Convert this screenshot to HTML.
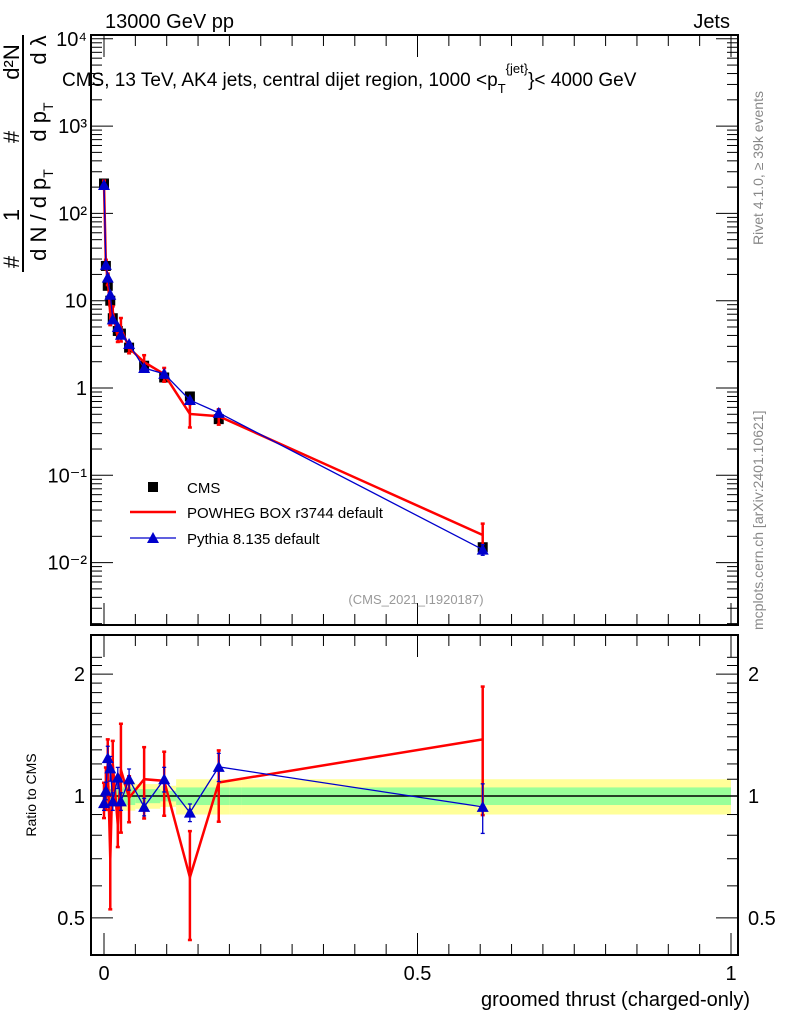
<!DOCTYPE html>
<html><head><meta charset="utf-8"><style>
body{margin:0;background:#fff}
svg{font-family:"Liberation Sans",sans-serif}
</style></head><body>
<svg id="c" width="786" height="1024" viewBox="0 0 786 1024" xmlns="http://www.w3.org/2000/svg">
<g id="g"></g>
<text x="105" y="28" font-size="20">13000 GeV pp</text>
<text x="730" y="28" font-size="20" text-anchor="end">Jets</text>
<text x="62" y="86" font-size="19">CMS, 13 TeV, AK4 jets, central dijet region, 1000 &lt;p<tspan dy="7" font-size="13">T</tspan><tspan dy="-20" font-size="13">{jet}</tspan><tspan dy="13">}&lt; 4000 GeV</tspan></text>
<text x="416" y="604" font-size="13" fill="#999" text-anchor="middle">(CMS_2021_I1920187)</text>
<text transform="translate(763,245) rotate(-90)" font-size="14" fill="#888">Rivet 4.1.0, ≥ 39k events</text>
<text transform="translate(763,630) rotate(-90)" font-size="14" fill="#888">mcplots.cern.ch [arXiv:2401.10621]</text>
<g font-size="22">
<line x1="23" y1="35" x2="23" y2="272" stroke="#000" stroke-width="2"/>
<text transform="translate(19,262) rotate(-90)" text-anchor="middle">#</text>
<text transform="translate(19,215) rotate(-90)" text-anchor="middle">1</text>
<text transform="translate(19,137) rotate(-90)" text-anchor="middle">#</text>
<text transform="translate(19,62) rotate(-90)" text-anchor="middle">d²N</text>
<text transform="translate(46,215) rotate(-90)" text-anchor="middle">d N / d p<tspan font-size="14" dy="7">T</tspan></text>
<text transform="translate(46,122) rotate(-90)" text-anchor="middle">d p<tspan font-size="14" dy="7">T</tspan></text>
<text transform="translate(46,50) rotate(-90)" text-anchor="middle">d λ</text>
</g>
<text transform="translate(36,795) rotate(-90)" font-size="14" text-anchor="middle">Ratio to CMS</text>
<text x="750" y="1006" font-size="20" text-anchor="end">groomed thrust (charged-only)</text>
<g font-size="15">
<rect x="148" y="482" width="10" height="10" fill="#000"/>
<text x="187" y="493">CMS</text>
<line x1="130" y1="512" x2="176" y2="512" stroke="red" stroke-width="2.5"/>
<text x="187" y="518">POWHEG BOX r3744 default</text>
<line x1="130" y1="538" x2="176" y2="538" stroke="#00c" stroke-width="1.3"/>
<polygon points="153,532 147,543 159,543" fill="#00c"/>
<text x="187" y="544">Pythia 8.135 default</text>
</g>
</svg>
<script>
const xs=[0.0,0.003,0.006,0.01,0.014,0.022,0.027,0.04,0.064,0.096,0.137,0.183,0.604];
const cms=[220,25,14.8,10,6.3,4.5,4.2,2.9,1.8,1.32,0.8,0.44,0.015];
const powRatio=[0.98,1.05,1.2,0.7,1.2,0.85,1.16,0.99,1.1,1.09,0.63,1.08,1.38];
const powErr=[0.1,0.12,0.15,0.25,0.14,0.12,0.3,0.13,0.2,0.18,0.3,0.2,0.35];
const pyRatio=[0.96,1.03,1.24,1.17,0.97,1.11,0.97,1.1,0.94,1.1,0.91,1.18,0.94];
const pyErr=[0.04,0.05,0.07,0.07,0.05,0.06,0.05,0.06,0.05,0.07,0.05,0.08,0.14];
const bandX=[0,0.03,0.05,0.09,0.115,0.2,0.22,1.0];
const bandG=[0.04,0.05,0.04,0.03,0.05,0.05,0.05];
const bandY=[0.06,0.08,0.07,0.06,0.1,0.1,0.1];
const yTicks=["10⁻²","10⁻¹","1","10","10²","10³","10⁴"];
const xTicks=[0,0.5,1];
const xTickLbl=["0","0.5","1"];
const rTicks=[0.5,1,2];
const NS="http://www.w3.org/2000/svg",g=document.getElementById('g');
const L=91,R=738,T=35,B=625,RT=635,RB=955;
const X=v=>104+627*v, Y=v=>388-87.3*Math.log10(v), RY=v=>796-405*Math.log10(v);
function el(t,a,p){const e=document.createElementNS(NS,t);for(const k in a)e.setAttribute(k,a[k]);(p||g).appendChild(e);return e;}
const bands=el('g',{});


for(let i=0;i<bandG.length;i++){
 const x1=X(bandX[i]),x2=X(bandX[i+1]);
 el('rect',{x:x1,y:RY(1+bandY[i]),width:x2-x1,height:RY(1-bandY[i])-RY(1+bandY[i]),fill:'#ffff99'},bands);
 el('rect',{x:x1,y:RY(1+bandG[i]),width:x2-x1,height:RY(1-bandG[i])-RY(1+bandG[i]),fill:'#99ff99'},bands);
}
el('line',{x1:L,x2:R,y1:RY(1),y2:RY(1),stroke:'#000','stroke-width':1.5});
const f1=el('rect',{x:L,y:T,width:R-L,height:B-T,fill:'none',stroke:'#000','stroke-width':2});


const f2=el('rect',{x:L,y:RT,width:R-L,height:RB-RT,fill:'none',stroke:'#000','stroke-width':2});


for(let d=-3;d<=4;d++){for(let m=1;m<10;m++){const v=m*Math.pow(10,d);const y=Y(v);if(y<T||y>B)continue;const len=m==1?22:11;
 el('line',{x1:L,x2:L+len,y1:y,y2:y,stroke:'#000'});el('line',{x1:R,x2:R-len,y1:y,y2:y,stroke:'#000'});}}
yTicks.forEach((s,i)=>{const t=el('text',{x:L-4,y:Y(Math.pow(10,i-2))+7,'font-size':20,'text-anchor':'end'});t.textContent=s;
 
 });
for(let i=0;i<=20;i++){const v=i*0.05;const x=X(v);const len=i%10==0?22:11;
 [[B,-1],[T,1],[RB,-1],[RT,1]].forEach(([y0,s])=>el('line',{x1:x,x2:x,y1:y0,y2:y0+s*len,stroke:'#000'}));}
xTicks.forEach((v,i)=>{const t=el('text',{x:X(v),y:980,'font-size':20,'text-anchor':'middle'});t.textContent=xTickLbl[i];
 
 });
for(let v=0.5;v<=2.3;v+=0.1){const y=RY(v);if(y<RT)continue;const maj=Math.abs(v-0.5)<1e-6||Math.abs(v-1)<1e-6||Math.abs(v-2)<1e-6;const len=maj?22:11;
 el('line',{x1:L,x2:L+len,y1:y,y2:y,stroke:'#000'});el('line',{x1:R,x2:R-len,y1:y,y2:y,stroke:'#000'});}
rTicks.forEach(v=>{[[L-6,'end'],[R+10,'start']].forEach(([x,a])=>{const t=el('text',{x:x,y:RY(v)+7,'font-size':20,'text-anchor':a});t.textContent=String(v);
 
 });});
const cg=el('g',{});


xs.forEach((x,i)=>el('rect',{x:X(x)-5,y:Y(cms[i])-5,width:10,height:10,fill:'#000'},cg));
function series(ratio,err,col,w,tri,yf,name){
 const s=el('g',{});
 
 
 el('polyline',{points:xs.map((x,i)=>X(x)+','+yf(ratio[i],i)).join(' '),fill:'none',stroke:col,'stroke-width':w},s);
 xs.forEach((x,i)=>{const px=X(x),y1=yf(ratio[i]*(1+err[i]),i),y2=yf(ratio[i]*(1-err[i]),i);
  el('line',{x1:px,x2:px,y1:y1,y2:y2,stroke:col,'stroke-width':w},s);
  el('line',{x1:px-2,x2:px+2,y1:y1,y2:y1,stroke:col,'stroke-width':w},s);
  el('line',{x1:px-2,x2:px+2,y1:y2,y2:y2,stroke:col,'stroke-width':w},s);
  if(tri){const y=yf(ratio[i],i);el('polygon',{points:`${px},${y-6} ${px-6},${y+5} ${px+6},${y+5}`,fill:col},s);}});
}
const mainY=(r,i)=>Y(r*cms[i]);
series(powRatio,powErr,'red',2.5,false,mainY,'powheg-main-series');
series(pyRatio,pyErr,'#00c',1.3,true,mainY,'pythia-main-series');
series(powRatio,powErr,'red',2.5,false,r=>RY(r),'powheg-ratio-series');
series(pyRatio,pyErr,'#00c',1.3,true,r=>RY(r),'pythia-ratio-series');
</script>
</body></html>
